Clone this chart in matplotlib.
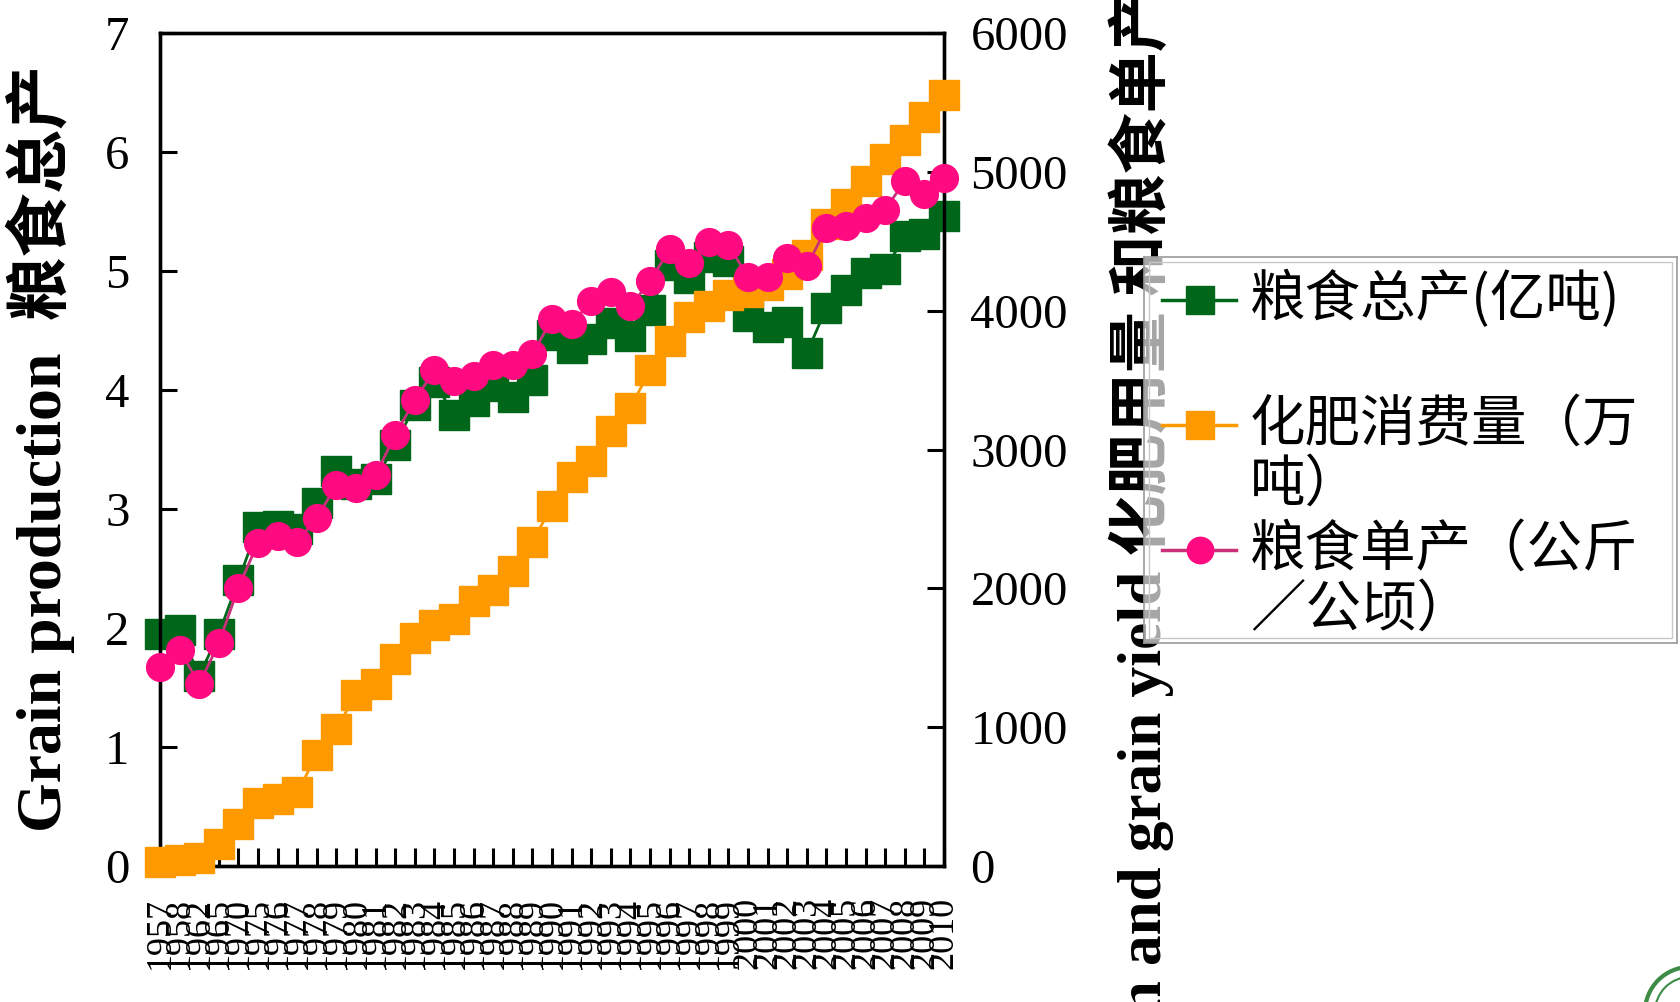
import matplotlib
matplotlib.use("Agg")
import matplotlib.pyplot as plt
from matplotlib.lines import Line2D
from matplotlib.patches import Rectangle, Ellipse

# ---- data -------------------------------------------------------------
years = ['1957', '1958', '1962', '1965', '1970', '1975', '1976', '1977', '1978',
         '1979', '1980', '1981', '1982', '1983', '1984', '1985', '1986', '1987',
         '1988', '1989', '1990', '1991', '1992', '1993', '1994', '1995', '1996',
         '1997', '1998', '1999', '2000', '2001', '2002', '2003', '2004', '2005',
         '2006', '2007', '2008', '2009', '2010']

# 粮食总产 (亿吨) - left axis
grain_total = [1.95, 1.98, 1.60, 1.95, 2.40, 2.85, 2.86, 2.83, 3.05, 3.32,
               3.21, 3.25, 3.54, 3.87, 4.07, 3.79, 3.91, 4.03, 3.94, 4.08,
               4.46, 4.35, 4.43, 4.56, 4.45, 4.67, 5.05, 4.94, 5.12, 5.08,
               4.62, 4.53, 4.57, 4.31, 4.69, 4.84, 4.98, 5.02, 5.29, 5.31,
               5.46]

# 化肥消费量 (万吨) - right axis
fertilizer = [30, 45, 60, 160, 300, 455, 480, 530, 800, 990,
              1234, 1311, 1488, 1643, 1735, 1781, 1912, 1990, 2128, 2337,
              2591, 2799, 2915, 3131, 3301, 3571, 3779, 3956, 4033, 4110,
              4133, 4188, 4265, 4404, 4627, 4766, 4935, 5090, 5229, 5398,
              5553]

# 粮食单产 (公斤/公顷) - right axis
grain_yield = [1434, 1558, 1311, 1604, 2005, 2329, 2375, 2337, 2506, 2745,
               2722, 2815, 3108, 3355, 3571, 3493, 3532, 3609, 3609, 3686,
               3941, 3902, 4072, 4134, 4033, 4211, 4442, 4342, 4496, 4473,
               4242, 4242, 4380, 4319, 4596, 4612, 4666, 4727, 4935, 4843,
               4959]

left_ticks = [0, 1, 2, 3, 4, 5, 6, 7]
right_ticks = [0, 1000, 2000, 3000, 4000, 5000, 6000]

legend_lines = [['粮食总产(亿吨)'],
                ['化肥消费量（万', '吨）'],
                ['粮食单产（公斤', '／公顷）']]

# ---- style ------------------------------------------------------------
GREEN = '#00661A'
ORANGE = '#FF9900'
PINK = '#FF0A80'
PINK_LINE = '#C8307A'
SERIF = ['Liberation Serif', 'Noto Sans CJK SC']
CJK = ['Noto Sans CJK SC', 'DejaVu Sans']

W, H = 1680, 1002
fig = plt.figure(figsize=(W / 100, H / 100), dpi=100)
fig.patch.set_facecolor('white')


def fx(px):
    return px / W


def fy(py):
    return 1 - py / H


# main axes box: left 160, right 944, top 33, bottom 866 (pixels)
ax = fig.add_axes([fx(160), fy(866), fx(944 - 160), (866 - 33) / H])
ax2 = ax.twinx()

x = list(range(len(years)))

ax.plot(x, grain_total, color=GREEN, lw=2, marker='s', ms=22,
        mfc=GREEN, mec=GREEN, clip_on=False, zorder=3)
ax2.plot(x, fertilizer, color=ORANGE, lw=2, marker='s', ms=22,
         mfc=ORANGE, mec=ORANGE, clip_on=False, zorder=3)
ax2.plot(x, grain_yield, color=PINK_LINE, lw=2, marker='o', ms=20,
         mfc=PINK, mec=PINK, clip_on=False, zorder=4)

ax.set_xlim(0, len(years) - 1)
ax.set_ylim(0, 7)
ax2.set_ylim(0, 6000)
ax.set_yticks(left_ticks)
ax2.set_yticks(right_ticks)
ax.set_xticks(x)
ax.set_xticklabels(years, rotation=90, fontsize=26, family=SERIF,
                   va='top', ha='center')

for a in (ax, ax2):
    for s in a.spines.values():
        s.set_linewidth(2.4)
        s.set_color('black')

ax.tick_params(axis='x', direction='in', length=13, width=2.2, pad=22,
               top=False)
ax.tick_params(axis='y', direction='in', length=12, width=2.2, pad=22,
               labelsize=35)
ax2.tick_params(axis='y', direction='in', length=12, width=2.2, pad=19,
                labelsize=35)
for lab in ax.get_yticklabels() + ax2.get_yticklabels():
    lab.set_family(SERIF)

# axis titles
fig.text(fx(40), fy(448), 'Grain production  粮食总产', rotation=90,
         ha='center', va='center', fontsize=46, fontweight='bold',
         family=SERIF)
fig.text(fx(1141), 1 + 10 / H,
         'Fertilizer application and grain yield 化肥用量 和粮食单产',
         rotation=90, ha='center', va='top', fontsize=44,
         fontweight='bold', family=SERIF, zorder=3)

# ---- legend box -------------------------------------------------------
L, T, R, B = 1144, 257, 1677, 643
lax = fig.add_axes([fx(L), fy(B), fx(R - L), (B - T) / H])
lax.set_zorder(5)
lax.set_xlim(0, R - L)
lax.set_ylim(B - T, 0)
lax.set_xticks([])
lax.set_yticks([])
lax.patch.set_facecolor('white')
lax.patch.set_alpha(0.65)
for s in lax.spines.values():
    s.set_color('#9A9A9A')
    s.set_linewidth(1.2)
lax.add_patch(Rectangle((5, 5), R - L - 10, B - T - 10, fill=False,
                        ec='#C8C8C8', lw=1.0))

rows = [43, 168, 293]
styles = [(GREEN, GREEN, 's', 20), (ORANGE, ORANGE, 's', 20),
          (PINK_LINE, PINK, 'o', 19)]
for (lc, mc, mk, ms), y0, lines in zip(styles, rows, legend_lines):
    lax.add_line(Line2D([18, 92], [y0, y0], color=lc, lw=2.5))
    lax.add_line(Line2D([56], [y0], marker=mk, ms=ms, mfc=mc, mec=mc,
                        ls='none'))
    for k, txt in enumerate(lines):
        lax.text(106, y0 + k * 60, txt, fontsize=40, family=CJK,
                 ha='left', va='center')

# corner emblem
fig.add_artist(Ellipse((fx(1690), fy(1012)), 90 / W, 90 / H,
                       transform=fig.transFigure, fill=False,
                       ec='#3C8C46', lw=3))
fig.add_artist(Ellipse((fx(1690), fy(1012)), 70 / W, 70 / H,
                       transform=fig.transFigure, fill=False,
                       ec='#3C8C46', lw=1.5))

fig.savefig('out.png', dpi=100, facecolor='white')
